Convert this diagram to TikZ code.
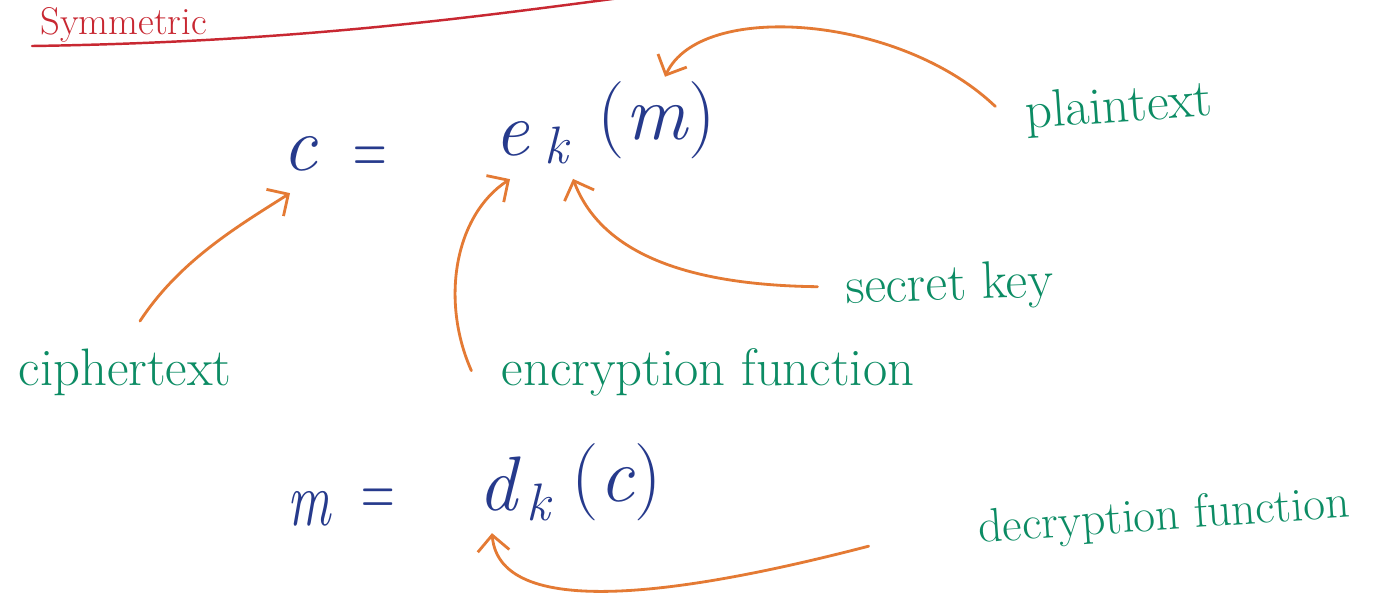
\documentclass[tikz,border=0pt]{standalone}
\usepackage{tikz}
\usetikzlibrary{arrows.meta, calc}
\definecolor{inkblue}{RGB}{38,58,140}
\definecolor{inkgreen}{RGB}{12,140,100}
\definecolor{inkorange}{RGB}{228,122,52}
\definecolor{inkred}{RGB}{200,40,50}

\begin{document}
\begin{tikzpicture}[
  x=0.02cm, y=-0.02cm,
  sym/.style={inner sep=0pt, anchor=base, text=inkblue, font=\fontsize{44}{48}\selectfont},
  sub/.style={inner sep=0pt, anchor=base, text=inkblue, font=\fontsize{30}{34}\selectfont\itshape},
  note/.style={inner sep=0pt, anchor=base, text=inkgreen, font=\fontsize{30}{36}\selectfont},
  pointer/.style={draw=inkorange, line width=1.6pt, line cap=round,
    -{Straight Barb[length=9pt, width=18pt]}},
]
  \clip (0,0) rectangle (1400,603);
  \fill[white] (0,0) rectangle (1400,603);

  % heading
  \node[note, anchor=base west, text=inkred, font=\fontsize{22}{26}\selectfont] (title) at (40,34) {Symmetric};
  \draw[inkred, line width=1.4pt, line cap=round] (32,46) .. controls (300,42) and (480,16) .. (620,-2);

  % encryption
  \node[sym] (c1) at (300,170) {\textit{c}};
  \node[sym, xscale=0.6] (eq1) at (370,174) {=};
  \node[sym] (e) at (512,155) {\textit{e}};
  \node[sub] (k1) at (556,163) {k};
  \node[sym] (m1) at (657,139) {(\textit{m})};

  % decryption
  \node[sym, xscale=0.7] (m2) at (310,525) {\textit{m}};
  \node[sym, xscale=0.6] (eq2) at (378,516) {=};
  \node[sym] (d) at (500,510) {\textit{d}};
  \node[sub] (k2) at (538,520) {k};
  \node[sym] (c2) at (617,501) {(\textit{c})};

  % labels
  \node[note, rotate=4] (ptext) at (1120,122) {plaintext};
  \node[note, rotate=2] (skey) at (950,300) {secret key};
  \node[note] (efun) at (708,385) {encryption function};
  \node[note] (ctext) at (125,385) {ciphertext};
  \node[note, rotate=4, font=\fontsize{27}{32}\selectfont] (dfun) at (1165,530) {decryption function};

  % pointers
  \draw[pointer] ($(ctext.north)+(15,-27)$) .. controls (180,260) and (240,225) .. ($(c1.south)+(-10,22)$);
  \draw[pointer] ($(efun.north west)+(-30,23)$) .. controls (440,300) and (455,215) .. ($(e.south)+(-2,23)$);
  \draw[pointer] ($(skey.west)+(-28,-4)$) .. controls (680,285) and (600,250) .. ($(k1.south)+(17,15)$);
  \draw[pointer] ($(ptext.west)+(-30,-9)$) .. controls (900,15) and (700,0) .. ($(m1.north)+(8,-4)$);
  \draw[pointer] ($(dfun.west)+(-110,15)$) .. controls (700,590) and (500,625) .. ($(d.south)+(-8,22)$);
\end{tikzpicture}
\end{document}
